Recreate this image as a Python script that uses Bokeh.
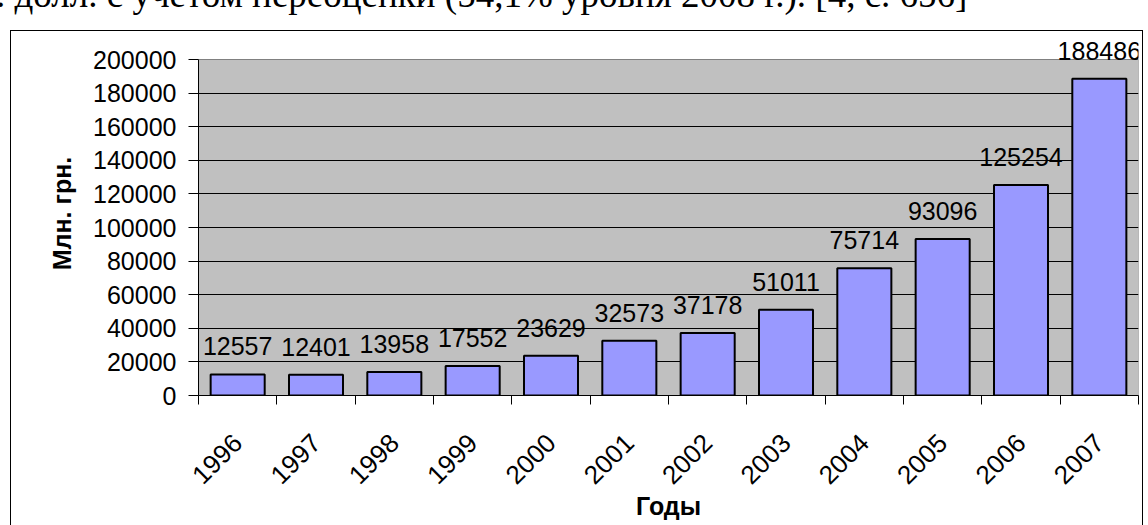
import math
from bokeh.plotting import figure
from bokeh.layouts import column
from bokeh.models import (ColumnDataSource, Range1d, FixedTicker, LabelSet, Div,
                          BasicTickFormatter)
from bokeh.core.properties import value
from bokeh.embed import file_html
from bokeh.resources import INLINE

# ---- data ----
years = ["1996", "1997", "1998", "1999", "2000", "2001",
         "2002", "2003", "2004", "2005", "2006", "2007"]
values = [12557, 12401, 13958, 17552, 23629, 32573,
          37178, 51011, 75714, 93096, 125254, 188486]
y_ticks = [0, 20000, 40000, 60000, 80000, 100000,
           120000, 140000, 160000, 180000, 200000]
y_title = "Млн. грн."
x_title = "Годы"
top_text = ". долл. с учетом переоценки (54,1% уровня 2008 г.).  [4, с. 656]"

# ---- layout constants (figure canvas pixels) ----
W, H = 1131, 494
F_LEFT, F_RIGHT, F_TOP, F_BOTTOM = 187, 1127, 0, 364
Y_AXIS_TOP_PX = 28          # pixel row of the axis maximum
X0, X1 = -0.5, len(years) - 0.5
Y0, Y1 = 0, 200000
Y_TOP = Y0 + (Y1 - Y0) * (F_BOTTOM - F_TOP) / (F_BOTTOM - Y_AXIS_TOP_PX)

FONT = "Liberation Sans"

xs = list(range(len(years)))
src = ColumnDataSource(dict(x=xs, v=values, t=[str(v) for v in values]))

p = figure(width=W, height=H, x_range=Range1d(X0, X1), y_range=Range1d(Y0, Y_TOP),
           min_border_left=F_LEFT, min_border_right=W - F_RIGHT,
           min_border_top=F_TOP, min_border_bottom=H - F_BOTTOM,
           output_backend="svg", toolbar_location=None)
p.margin = (0, 0, 0, 11)
p.styles = {"outline": "1px solid black"}

p.background_fill_color = "white"
p.border_fill_color = "white"
p.outline_line_color = None

# plot area (grey) with grey border
p.quad(left=[X0], right=[X1], bottom=[Y0], top=[Y1], fill_color="#C0C0C0",
       line_color="#808080", line_width=1, level="image")

p.vbar(x="x", top="v", bottom=0, width=0.69, source=src,
       fill_color="#9999FF", line_color="black", line_width=2)

# y axis
ya = p.yaxis[0]
ya.bounds = (Y0, Y1)
ya.ticker = FixedTicker(ticks=y_ticks)
ya.formatter = BasicTickFormatter(use_scientific=False)
ya.major_label_text_font = FONT
ya.major_label_text_font_size = "25px"
ya.major_label_text_color = "black"
ya.major_tick_out = 10
ya.major_tick_in = 0
ya.minor_tick_line_color = None
ya.major_label_standoff = 12
ya.axis_line_color = "black"
ya.major_tick_line_color = "black"
ya.axis_label = y_title
ya.axis_label_text_font = FONT
ya.axis_label_text_font_size = "25px"
ya.axis_label_text_font_style = "bold"
ya.axis_label_text_color = "black"
ya.axis_label_standoff = 14

# x axis: labels at centres, ticks at boundaries
xa = p.xaxis[0]
xa.ticker = FixedTicker(ticks=xs, minor_ticks=[i - 0.5 for i in range(len(years) + 1)])
xa.major_label_overrides = {i: y for i, y in enumerate(years)}
xa.major_label_orientation = math.pi / 4
xa.major_label_text_font = FONT
xa.major_label_text_font_size = "26px"
xa.major_label_text_color = "black"
xa.major_tick_out = 0
xa.major_tick_in = 0
xa.minor_tick_out = 9
xa.minor_tick_in = 0
xa.minor_tick_line_color = "black"
xa.major_label_standoff = 34
xa.axis_line_color = "black"
xa.axis_label = x_title
xa.axis_label_text_font = FONT
xa.axis_label_text_font_size = "25px"
xa.axis_label_text_font_style = "bold"
xa.axis_label_text_color = "black"
xa.axis_label_standoff = -3

p.xgrid.grid_line_color = None
p.ygrid.ticker = FixedTicker(ticks=y_ticks[1:-1])
p.ygrid.grid_line_color = "black"
p.ygrid.grid_line_width = 1

labels = LabelSet(x="x", y="v", text="t", source=src, y_offset=19,
                  text_align="center", text_baseline="alphabetic",
                  text_font=value(FONT), text_font_size="25px", text_color="black")
p.add_layout(labels)

# clipped line of document text above the chart
html = ('<div style="position:relative; top:-24px; left:-4px; white-space:nowrap; '
        "font-family:'Liberation Serif'; font-size:37px; line-height:37px; color:black;\">"
        + top_text + "</div>")
top = Div(text=html, width=1146, height=31, margin=(0, 0, 0, 0),
          styles={"overflow": "hidden"})

layout = column(top, p, spacing=0)
open("out.html", "w").write(file_html(layout, INLINE))
